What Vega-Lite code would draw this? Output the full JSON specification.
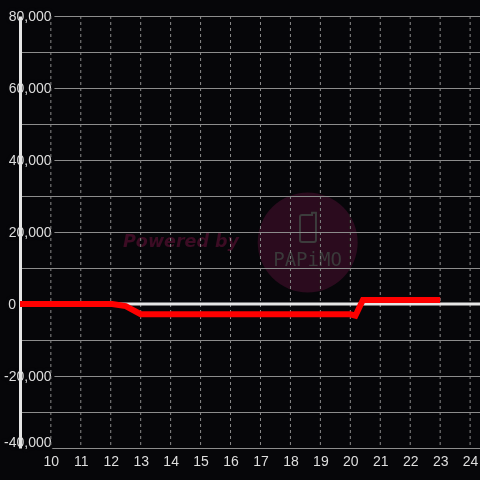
{
  "$schema": "https://vega.github.io/schema/vega-lite/v6.json",
  "width": 460,
  "height": 432,
  "autosize": {"type": "none"},
  "padding": {"left": 20, "top": 16, "right": 0, "bottom": 32},
  "background": "#060609",
  "config": {
    "view": {"stroke": null},
    "font": "Liberation Sans",
    "axisX": {
      "title": null,
      "grid": false,
      "domain": false,
      "ticks": false,
      "tickSize": 0,
      "labelPadding": 6,
      "labelColor": "#dedede",
      "labelFontSize": 14,
      "labelFont": "Liberation Sans",
      "labelFlush": false,
      "labelOverlap": false
    }
  },
  "datasets": {
    "series": [
      {"x": 8.97, "y": 0},
      {"x": 12.05, "y": 0},
      {"x": 12.5, "y": -600},
      {"x": 13.0, "y": -2850},
      {"x": 20.0, "y": -2850},
      {"x": 20.17, "y": -3250},
      {"x": 20.42, "y": 1100},
      {"x": 23.0, "y": 1100}
    ],
    "hours": [
      {"h": 10}, {"h": 11}, {"h": 12}, {"h": 13}, {"h": 14}, {"h": 15}, {"h": 16}, {"h": 17},
      {"h": 18}, {"h": 19}, {"h": 20}, {"h": 21}, {"h": 22}, {"h": 23}, {"h": 24}
    ]
  },
  "resolve": {"axis": {"y": "independent"}},
  "layer": [
    {
      "data": {"name": "hours"},
      "mark": {"type": "rule", "color": "#8c8c8c", "strokeWidth": 1, "strokeDash": [3, 3]},
      "encoding": {
        "x": {"field": "h", "type": "quantitative", "scale": {"domain": [8.97, 24.33], "nice": false, "zero": false}, "axis": {"values": [10, 11, 12, 13, 14, 15, 16, 17, 18, 19, 20, 21, 22, 23, 24], "grid": false}}
      }
    },
    {
      "data": {"values": [{"t": "logo"}]},
      "mark": {"type": "point", "shape": "circle", "filled": true, "size": 10000, "color": "#2b0b1e", "opacity": 1, "blend": "lighten"},
      "encoding": {
        "x": {"datum": 18.576, "type": "quantitative", "scale": {"domain": [8.97, 24.33], "nice": false, "zero": false}, "axis": {"values": [10, 11, 12, 13, 14, 15, 16, 17, 18, 19, 20, 21, 22, 23, 24], "grid": false}},
        "y": {"datum": 17100, "type": "quantitative", "scale": {"domain": [-40000, 80000], "nice": false, "zero": false}, "axis": null}
      }
    },
    {
      "data": {"values": [{"t": "phone"}]},
      "mark": {"type": "point", "shape": "M-0.43,-0.96 H0.29 V-1.13 H0.57 V0.82 Q0.57,0.96 0.43,0.96 H-0.43 Q-0.57,0.96 -0.57,0.82 V-0.82 Q-0.57,-0.96 -0.43,-0.96 Z", "filled": false, "size": 784, "stroke": "#3c3c3c", "strokeWidth": 2, "opacity": 1, "blend": "lighten"},
      "encoding": {
        "x": {"datum": 18.586, "type": "quantitative", "scale": {"domain": [8.97, 24.33], "nice": false, "zero": false}, "axis": {"values": [10, 11, 12, 13, 14, 15, 16, 17, 18, 19, 20, 21, 22, 23, 24], "grid": false}},
        "y": {"datum": 20970, "type": "quantitative", "scale": {"domain": [-40000, 80000], "nice": false, "zero": false}, "axis": null}
      }
    },
    {
      "data": {"values": [{"t": "PAPiMO"}]},
      "mark": {"type": "text", "font": "DejaVu Sans Mono", "fontSize": 19, "color": "#3a3a3a", "align": "center", "baseline": "alphabetic", "blend": "lighten"},
      "encoding": {
        "text": {"field": "t"},
        "x": {"datum": 18.57, "type": "quantitative", "scale": {"domain": [8.97, 24.33], "nice": false, "zero": false}, "axis": {"values": [10, 11, 12, 13, 14, 15, 16, 17, 18, 19, 20, 21, 22, 23, 24], "grid": false}},
        "y": {"datum": 10550, "type": "quantitative", "scale": {"domain": [-40000, 80000], "nice": false, "zero": false}, "axis": null}
      }
    },
    {
      "data": {"values": [{"t": "Powered by"}]},
      "mark": {"type": "text", "font": "DejaVu Sans", "fontSize": 17.5, "fontWeight": "bold", "fontStyle": "italic", "color": "#3c0c24", "align": "center", "baseline": "alphabetic", "blend": "lighten"},
      "encoding": {
        "text": {"field": "t"},
        "x": {"datum": 14.346, "type": "quantitative", "scale": {"domain": [8.97, 24.33], "nice": false, "zero": false}, "axis": {"values": [10, 11, 12, 13, 14, 15, 16, 17, 18, 19, 20, 21, 22, 23, 24], "grid": false}},
        "y": {"datum": 15830, "type": "quantitative", "scale": {"domain": [-40000, 80000], "nice": false, "zero": false}, "axis": null}
      }
    },
    {
      "data": {"values": [{"t": "zero"}]},
      "mark": {"type": "rule", "color": "#e6e6e6", "strokeWidth": 3},
      "encoding": {
        "y": {
          "datum": 0,
          "type": "quantitative",
          "scale": {"domain": [-40000, 80000], "nice": false, "zero": false},
          "axis": {
            "orient": "left",
            "title": null,
            "values": [-40000, -30000, -20000, -10000, 0, 10000, 20000, 30000, 40000, 50000, 60000, 70000, 80000],
            "labelExpr": "datum.value % 20000 === 0 ? replace(format(datum.value, ','), '−', '-') : ''",
            "grid": true,
            "gridColor": "#8c8c8c",
            "gridWidth": 1,
            "domain": true,
            "domainColor": "#e6e6e6",
            "domainWidth": 3,
            "ticks": false,
            "tickSize": 0,
            "labelPadding": {"condition": {"test": "datum.value === 0", "value": 4.5}, "value": -31},
            "labelOffset": {"condition": {"test": "datum.value === -40000", "value": -6}, "value": 0},
            "labelColor": "#060609",
            "labelFontSize": 14,
            "labelFont": "Liberation Sans",
            "labelFlush": false,
            "labelOverlap": false,
            "encoding": {"labels": {"stroke": {"value": "#060609"}, "strokeWidth": {"value": 7}, "strokeJoin": {"value": "round"}}}
          }
        }
      }
    },
    {
      "data": {"name": "series"},
      "mark": {"type": "line", "color": "#ff0000", "strokeWidth": 6},
      "encoding": {
        "x": {
          "field": "x",
          "type": "quantitative",
          "scale": {"domain": [8.97, 24.33], "nice": false, "zero": false},
          "axis": {"values": [10, 11, 12, 13, 14, 15, 16, 17, 18, 19, 20, 21, 22, 23, 24], "grid": false}
        },
        "y": {
          "field": "y",
          "type": "quantitative",
          "scale": {"domain": [-40000, 80000], "nice": false, "zero": false},
          "axis": {
            "orient": "left",
            "title": null,
            "values": [-40000, -30000, -20000, -10000, 0, 10000, 20000, 30000, 40000, 50000, 60000, 70000, 80000],
            "labelExpr": "datum.value % 20000 === 0 ? replace(format(datum.value, ','), '−', '-') : ''",
            "grid": false,
            "domain": false,
            "ticks": false,
            "tickSize": 0,
            "labelPadding": {"condition": {"test": "datum.value === 0", "value": 4.5}, "value": -31},
            "labelOffset": {"condition": {"test": "datum.value === -40000", "value": -6}, "value": 0},
            "labelColor": "#dedede",
            "labelFontSize": 14,
            "labelFont": "Liberation Sans",
            "labelFlush": false,
            "labelOverlap": false
          }
        }
      }
    }
  ]
}
